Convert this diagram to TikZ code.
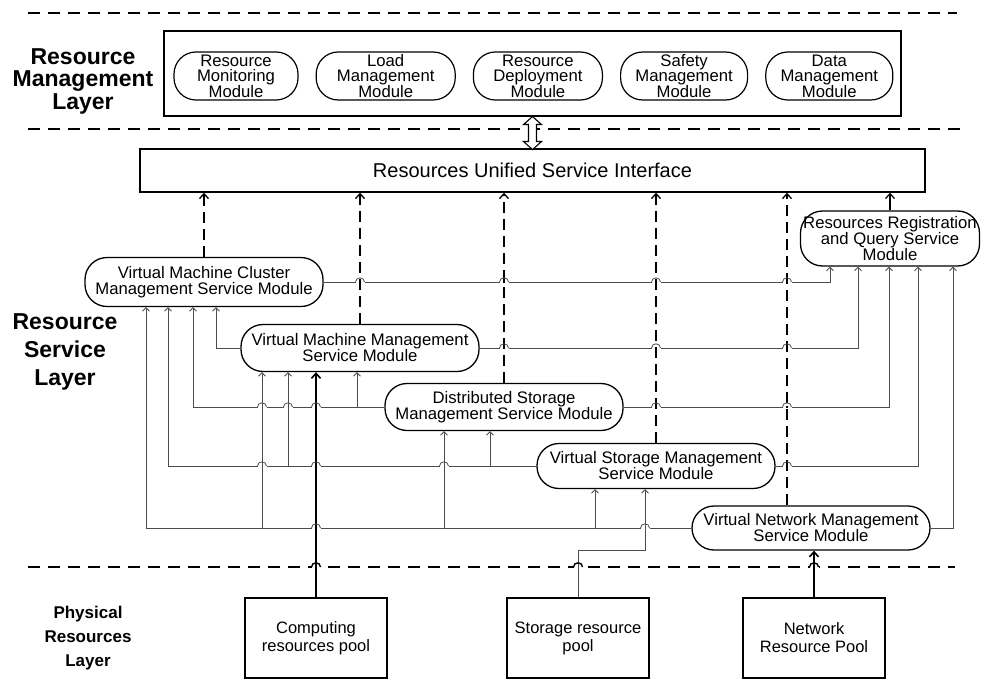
\documentclass[tikz,border=0pt]{standalone}
\usepackage{fontspec}
\setmainfont{Liberation Sans}
\usetikzlibrary{arrows.meta,calc,positioning}

% line hop: gap in the horizontal line, vertical redrawn, small arc over it
\newcommand\hop[4]{%
  \fill[white] (#3-4.5,#4-1) rectangle (#3+4.5,#4+1);
  \draw[#2] (#3,#4-1.2) -- (#3,#4+1.2);
  \draw[#1] (#3-4.5,#4) .. controls (#3-4.5,#4-5.5) and (#3+4.5,#4-5.5) .. (#3+4.5,#4);
}

\begin{document}
\begin{tikzpicture}[
x=1pt, y=-1pt,
every node/.style={align=center, inner sep=0pt},
layerlbl/.style={font=\bfseries\fontsize{23}{22.5}\selectfont},
mgmtmod/.style={draw, line width=1.2pt, rounded corners=22pt, minimum height=48pt, font=\fontsize{16.7}{15.6}\selectfont},
svcmod/.style={draw, line width=1.3pt, rounded corners=22pt, minimum width=238pt, minimum height=46pt, font=\fontsize{16.7}{16}\selectfont},
pool/.style={draw, line width=1.2pt, minimum width=142pt, minimum height=80pt, font=\fontsize{16.5}{18}\selectfont},
layersep/.style={line width=1.4pt, dash pattern=on 12pt off 8pt},
layerwire/.style={line width=1.4pt},
svcwire/.style={draw=black!70, line width=0.8pt},
svclink/.style={svcwire, -{Straight Barb[length=3.5pt,width=7pt]}},
feedwire/.style={line width=1.6pt},
feedarrow/.style={feedwire, -{Straight Barb[length=5pt,width=9pt]}},
dashwire/.style={line width=1.3pt},
dashup/.style={dashwire, dash pattern=on 11pt off 6pt, -{Straight Barb[length=5pt,width=9pt]}}
]
\useasboundingbox (0,0) rectangle (984,695);

% layer borders
\draw[layersep] (28,13) -- (957,13);
\draw[layersep] (28,129) -- (960,129);
\draw[layersep] (28,567) -- (955,567);

% layer names
\node[layerlbl] (lblmgmt) at (83,81) {Resource\\Management\\Layer};
\node[layerlbl, font=\bfseries\fontsize{23}{28}\selectfont] (lblserv) at (65,352) {Resource\\Service\\Layer};
\node[layerlbl, font=\bfseries\fontsize{17}{24}\selectfont] (lblphys) at (88,638) {Physical\\Resources\\Layer};

% resource management layer
\node[draw, line width=1.1pt, minimum width=737pt, minimum height=85pt] (mgmt) at (532.5,73.5) {};
\node[mgmtmod, minimum width=124pt] (rm) at (236,76) {Resource\\Monitoring\\Module};
\node[mgmtmod, minimum width=139pt, right=17pt of rm] (lm) {Load\\Management\\Module};
\node[mgmtmod, minimum width=129pt, right=17pt of lm] (rd) {Resource\\Deployment\\Module};
\node[mgmtmod, minimum width=127pt, right=17pt of rd] (sm) {Safety\\Management\\Module};
\node[mgmtmod, minimum width=127pt, right=17pt of sm] (dm) {Data\\Management\\Module};

% resource service layer
\node[draw, line width=1.4pt, minimum width=785pt, minimum height=43pt, font=\fontsize{20}{24}\selectfont] (iface) at (532.5,170.5) {Resources Unified Service Interface};
\node[svcmod, minimum height=49pt] (vmc) at (204,282) {Virtual Machine Cluster\\Management Service Module};
\node[svcmod, minimum height=47pt] (vmm) at (360,348) {Virtual Machine Management\\Service Module};
\node[svcmod, minimum height=47pt] (dsm) at (504,407) {Distributed Storage\\Management Service Module};
\node[svcmod, minimum height=45pt] (vsm) at (656,466) {Virtual Storage Management\\Service Module};
\node[svcmod, minimum height=44pt] (vnm) at (811,528) {Virtual Network Management\\Service Module};
\node[svcmod, minimum width=179pt, minimum height=55pt] (rrq) at (890,238.5) {Resources Registration\\and Query Service\\Module};

% physical resources layer
\node[pool] (cpool) at (316,638) {Computing\\resources pool};
\node[pool] (spool) at (578,638) {Storage resource\\pool};
\node[pool] (npool) at (814,638) {Network\\Resource Pool};

% management <-> interface
\draw[line width=1.1pt, fill=white] (mgmt.south) -- ++(9,8) -- ++(-5,0) -- ++(0,17) -- ++(5,0) -- ++(-9,8) -- ++(-9,-8) -- ++(5,0) -- ++(0,-17) -- ++(-5,0) -- cycle;

% up to the interface
\draw[dashup] (vmc.north) -- (vmc.north |- iface.south);
\draw[dashup] (vmm.north) -- (vmm.north |- iface.south);
\draw[dashup] (dsm.north) -- (dsm.north |- iface.south);
\draw[dashup] (vsm.north) -- (vsm.north |- iface.south);
\draw[dashup] ($(vnm.north)+(-24,0)$) -- ($(vnm.north |- iface.south)+(-24,0)$);
\draw[feedarrow, line width=1.2pt] (rrq.north) -- (rrq.north |- iface.south);

% into the cluster module
\draw[svclink] (vmm.west) -| ($(vmc.south)+(12,0)$);
\draw[svclink] (dsm.west) -| ($(vmc.south)+(-11,0)$);
\draw[svclink] (vsm.west) -| ($(vmc.south)+(-36,0)$);
\draw[svclink] (vnm.west) -| ($(vmc.south)+(-58,0)$);
% into the virtual machine module
\draw[svclink] (vnm.west) -| ($(vmm.south)+(-98,0)$);
\draw[svclink] (vsm.west) -| ($(vmm.south)+(-72,0)$);
\draw[svclink] (dsm.west) -| ($(vmm.south)+(-3,0)$);
% into the storage modules
\draw[svclink] (vnm.west) -| ($(dsm.south)+(-60,0)$);
\draw[svclink] (vsm.west) -| ($(dsm.south)+(-14,0)$);
\draw[svclink] (vnm.west) -| ($(vsm.south)+(-61,0)$);
% into registration and query
\draw[svclink] (vmc.east) -| ($(rrq.south)+(-60,0)$);
\draw[svclink] (vmm.east) -| ($(rrq.south)+(-32,0)$);
\draw[svclink] (dsm.east) -| ($(rrq.south)+(-1,0)$);
\draw[svclink] (vsm.east) -| ($(rrq.south)+(28,0)$);
\draw[svclink] (vnm.east) -| ($(rrq.south)+(63,0)$);

% from the pools
\draw[feedarrow] (cpool.north) -- (cpool.north |- vmm.south);
\draw[svclink] (spool.north) -- ++(0,-47) -| ($(vsm.south)+(-11,0)$);
\draw[feedarrow] (npool.north) -- (npool.north |- vnm.south);

% hops
\hop{svcwire}{dashwire}{360}{282}
\hop{svcwire}{dashwire}{504}{282}
\hop{svcwire}{dashwire}{656}{282}
\hop{svcwire}{dashwire}{787}{282}
\hop{svcwire}{dashwire}{504}{348}
\hop{svcwire}{dashwire}{656}{348}
\hop{svcwire}{dashwire}{787}{348}
\hop{svcwire}{dashwire}{656}{407}
\hop{svcwire}{dashwire}{787}{407}
\hop{svcwire}{dashwire}{787}{466}
\hop{svcwire}{svcwire}{262}{407}
\hop{svcwire}{svcwire}{288}{407}
\hop{svcwire}{feedwire}{316}{407}
\hop{svcwire}{svcwire}{262}{466}
\hop{svcwire}{feedwire}{316}{466}
\hop{svcwire}{svcwire}{444}{466}
\hop{svcwire}{feedwire}{316}{528}
\hop{svcwire}{svcwire}{645}{528}
\hop{layerwire}{feedwire}{316}{567}
\hop{layerwire}{svcwire}{578}{567}
\hop{layerwire}{feedwire}{814}{567}

\end{tikzpicture}
\end{document}
